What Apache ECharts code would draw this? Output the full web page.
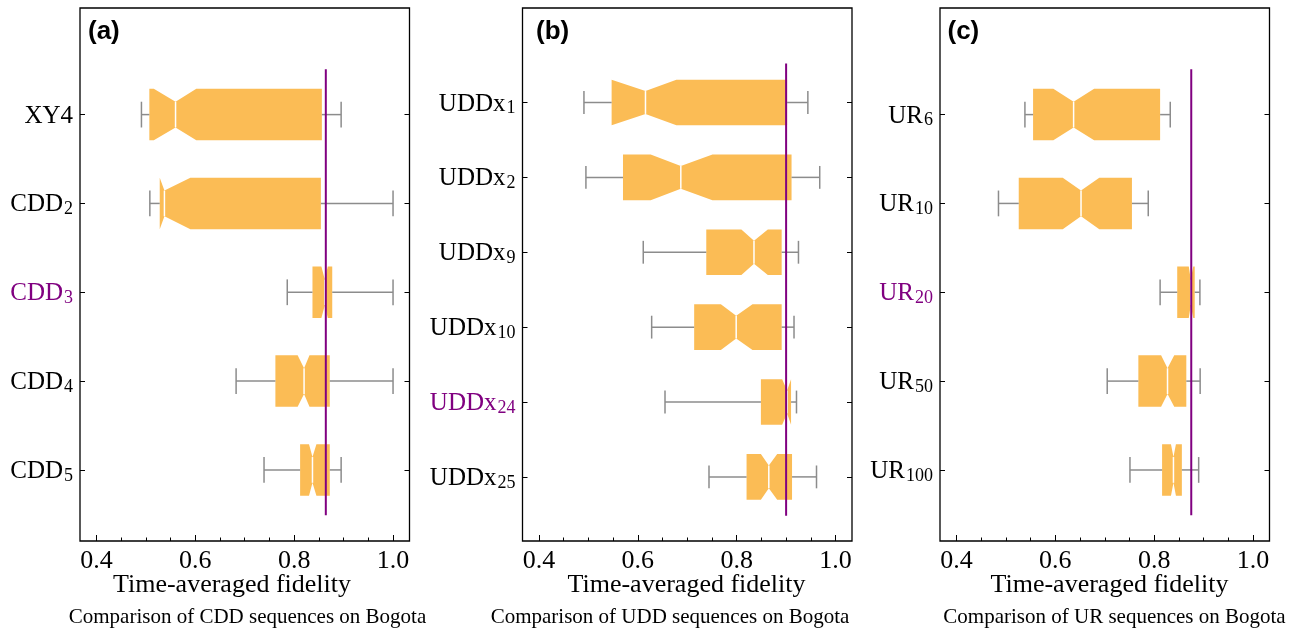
<!DOCTYPE html>
<html><head><meta charset="utf-8">
<script src="https://cdn.jsdelivr.net/npm/echarts@6/dist/echarts.min.js"></script>
<style>html,body{margin:0;padding:0;background:#fff}#c{width:1312px;height:630px}</style>
</head><body><div id="c"></div>
<script>
// ---- data ----
// each row: [whiskerLow, q1, notchLow, median, notchHigh, q3, whiskerHigh]
const labelsA = ['XY4', 'CDD_2', 'CDD_3', 'CDD_4', 'CDD_5'];
const statsA = [
  [0.491, 0.507, 0.516, 0.560, 0.602, 0.856, 0.895],
  [0.508, 0.528, 0.528, 0.5375, 0.590, 0.854, 1.000],
  [0.786, 0.837, 0.855, 0.862, 0.868, 0.877, 1.000],
  [0.6825, 0.762, 0.807, 0.820, 0.831, 0.872, 1.000],
  [0.739, 0.812, 0.830, 0.837, 0.845, 0.872, 0.895]
];
const refA = 0.864;

const labelsB = ['UDDx_1', 'UDDx_2', 'UDDx_9', 'UDDx_10', 'UDDx_24', 'UDDx_25'];
const statsB = [
  [0.491, 0.547, 0.547, 0.6155, 0.678, 0.902, 0.944],
  [0.495, 0.570, 0.626, 0.687, 0.751, 0.911, 0.968],
  [0.611, 0.7385, 0.8095, 0.835, 0.863, 0.891, 0.925],
  [0.628, 0.714, 0.768, 0.799, 0.832, 0.891, 0.916],
  [0.655, 0.849, 0.892, 0.902, 0.910, 0.910, 0.921],
  [0.744, 0.820, 0.849, 0.865, 0.882, 0.912, 0.9615]
];
const refB = 0.900;

const labelsC = ['UR_6', 'UR_10', 'UR_20', 'UR_50', 'UR_100'];
const statsC = [
  [0.5385, 0.555, 0.596, 0.637, 0.6785, 0.812, 0.8325],
  [0.485, 0.526, 0.615, 0.652, 0.689, 0.755, 0.788],
  [0.812, 0.8466, 0.870, 0.874, 0.879, 0.882, 0.8925],
  [0.705, 0.768, 0.814, 0.827, 0.8406, 0.865, 0.893],
  [0.751, 0.816, 0.834, 0.839, 0.844, 0.856, 0.890]
];
const refC = 0.875;

const highlighted = [2, 4, 2];
const xTicks = [0.4, 0.6, 0.8, 1.0];
const xMinorTicks = [0.45, 0.5, 0.55, 0.65, 0.7, 0.75, 0.85, 0.9, 0.95];
const xLabel = 'Time-averaged fidelity';
const captions = ['Comparison of CDD sequences on Bogota', 'Comparison of UDD sequences on Bogota', 'Comparison of UR sequences on Bogota'];
const panelTags = ['(a)', '(b)', '(c)'];

// ---- layout / style ----
const panels = [
  {labels: labelsA, stats: statsA, ref: refA, left: 80, ymin: -1.2, ymax: 4.8, boxW: 0.58, span: 0.51, xl: 232, cap: 247.5, tag: 88},
  {labels: labelsB, stats: statsB, ref: refB, left: 522.5, ymin: -1.262, ymax: 5.856, boxW: 0.61, span: 0.52, xl: 686.5, cap: 670, tag: 536},
  {labels: labelsC, stats: statsC, ref: refC, left: 940, ymin: -1.2, ymax: 4.8, boxW: 0.58, span: 0.51, xl: 1109.5, cap: 1114.5, tag: 947.5}
];
const XMIN = 0.3667, XMAX = 1.0333;
const SERIF = '"Liberation Serif", "Times New Roman", serif';
const BOX = '#fbbc55', WHISK = '#8c8c8c', PURPLE = '#800080';

function fmtLabel(str, hl) {
  const parts = str.split('_');
  const m = hl ? 'hm' : 'm', s = hl ? 'hs' : 's';
  let out = '{' + m + '|' + parts[0] + '}';
  if (parts[1]) out += '{' + s + '|' + parts[1] + '}';
  return out;
}
const rich = {
  m: {fontFamily: SERIF, fontSize: 25, color: '#000', padding: [3, 0, 0, 0]},
  s: {fontFamily: SERIF, fontSize: 18, color: '#000', padding: [12, 0, 0, 1]},
  hm: {fontFamily: SERIF, fontSize: 25, color: PURPLE, padding: [3, 0, 0, 0]},
  hs: {fontFamily: SERIF, fontSize: 18, color: PURPLE, padding: [12, 0, 0, 1]}
};

function boxRender(boxW) {
  return function (params, api) {
    const y = api.value(0);
    const X = [1, 2, 3, 4, 5, 6, 7].map(i => api.coord([api.value(i), y])[0]);
    const cy = api.coord([api.value(4), y])[1];
    const h = api.size([0, boxW])[1] / 2;
    const [wl, q1, nl, md, nh, q3, wh] = X;
    const poly = [[q1, cy - h], [nl, cy - h], [md, cy - h / 2], [nh, cy - h], [q3, cy - h],
                  [q3, cy + h], [nh, cy + h], [md, cy + h / 2], [nl, cy + h], [q1, cy + h]];
    const g = {stroke: WHISK, lineWidth: 1.5};
    return {type: 'group', children: [
      {type: 'polygon', shape: {points: poly}, style: {fill: BOX}},
      {type: 'line', shape: {x1: wl, y1: cy, x2: q1, y2: cy}, style: g},
      {type: 'line', shape: {x1: q3, y1: cy, x2: wh, y2: cy}, style: g},
      {type: 'line', shape: {x1: wl, y1: cy - h / 2, x2: wl, y2: cy + h / 2}, style: g},
      {type: 'line', shape: {x1: wh, y1: cy - h / 2, x2: wh, y2: cy + h / 2}, style: g},
      {type: 'line', shape: {x1: md, y1: cy - h / 2, x2: md, y2: cy + h / 2}, style: {stroke: '#fff', lineWidth: 1.5}}
    ]};
  };
}

const grid = [], xAxis = [], yAxis = [], series = [], graphic = [];
panels.forEach((p, i) => {
  grid.push({left: p.left, top: 8, width: 329.5, height: 533, show: true, borderColor: '#000', borderWidth: 1.3, backgroundColor: 'transparent'});
  const idx = p.labels.map((_, k) => k);
  xAxis.push({
    gridIndex: i, type: 'value', min: XMIN, max: XMAX, position: 'bottom',
    axisLine: {show: false, onZero: false}, splitLine: {show: false},
    axisTick: {show: true, inside: true, length: 6, customValues: xTicks, lineStyle: {color: '#000', width: 1}},
    axisLabel: {customValues: xTicks, formatter: v => Number(v).toFixed(1), fontFamily: SERIF, fontSize: 26, color: '#000', margin: 7}
  });
  xAxis.push({
    gridIndex: i, type: 'value', min: XMIN, max: XMAX, position: 'bottom',
    axisLine: {show: false, onZero: false}, splitLine: {show: false}, axisLabel: {show: false},
    axisTick: {show: true, inside: true, length: 3.5, customValues: xMinorTicks, lineStyle: {color: '#000', width: 1}}
  });
  yAxis.push({
    gridIndex: i, type: 'value', min: p.ymin, max: p.ymax, inverse: true, position: 'left',
    axisLine: {show: false, onZero: false}, splitLine: {show: false},
    axisTick: {show: true, inside: true, length: 5, customValues: idx, lineStyle: {color: '#000', width: 1}},
    axisLabel: {customValues: idx, formatter: v => fmtLabel(p.labels[Math.round(v)], Math.round(v) === highlighted[i]), rich: rich, margin: 7}
  });
  yAxis.push({
    gridIndex: i, type: 'value', min: p.ymin, max: p.ymax, inverse: true, position: 'right',
    axisLine: {show: false, onZero: false}, splitLine: {show: false}, axisLabel: {show: false},
    axisTick: {show: true, inside: true, length: 5, customValues: idx, lineStyle: {color: '#000', width: 1}}
  });
  series.push({
    type: 'custom', xAxisIndex: 2 * i, yAxisIndex: 2 * i,
    renderItem: boxRender(p.boxW),
    encode: {x: [1, 2, 3, 4, 5, 6, 7], y: 0},
    data: p.stats.map((s, k) => [k].concat(s)), z: 2
  });
  series.push({
    type: 'line', xAxisIndex: 2 * i, yAxisIndex: 2 * i, symbol: 'none', z: 5,
    lineStyle: {color: PURPLE, width: 2},
    data: [[p.ref, -p.span], [p.ref, p.labels.length - 1 + p.span]]
  });
  graphic.push({type: 'text', x: p.tag, y: 32, z: 10, style: {text: panelTags[i], font: 'bold 26px "Liberation Sans", Arial, sans-serif', fill: '#000', align: 'left', verticalAlign: 'middle'}});
  graphic.push({type: 'text', x: p.xl, y: 585, z: 10, style: {text: xLabel, font: '26px ' + SERIF, fill: '#000', align: 'center', verticalAlign: 'middle'}});
  graphic.push({type: 'text', x: p.cap, y: 617, z: 10, style: {text: captions[i], font: '21px ' + SERIF, fill: '#000', align: 'center', verticalAlign: 'middle'}});
});

const chart = echarts.init(document.getElementById('c'), null, {renderer: 'canvas'});
chart.setOption({animation: false, backgroundColor: '#fff', grid, xAxis, yAxis, series, graphic});
</script></body></html>
